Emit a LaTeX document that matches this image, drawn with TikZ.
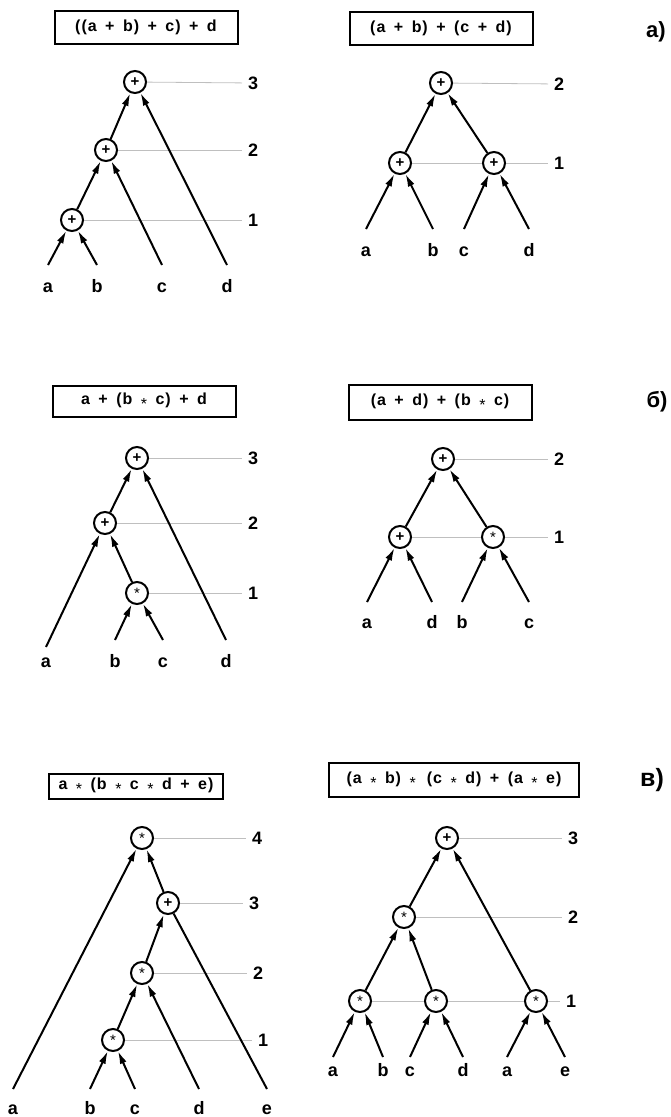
\documentclass[tikz,border=0pt]{standalone}
\usepackage{fontspec}
\setmainfont{Liberation Sans}
\newfontfamily\boxfont[LetterSpace=6]{Liberation Sans}
\usetikzlibrary{arrows.meta}
\newcommand{\opmul}{\raisebox{-0.33em}{\mdseries *}}
\newcommand{\boxtextfont}{\boxfont\bfseries\fontsize{16}{16}\selectfont\spaceskip 8.5pt\relax}

\begin{document}
\begin{tikzpicture}[x=1pt, y=-1pt, line width=2pt, >={Latex[length=13pt,width=7pt]}, opStyle/.style={circle, draw, minimum size=22pt, inner sep=0pt, font=\bfseries\fontsize{15}{15}\selectfont}, leafStyle/.style={anchor=base, inner sep=0pt, text height=12pt, text depth=0pt, outer ysep=#1, font=\bfseries\fontsize{18}{18}\selectfont}, leafStyle/.default=15pt, levelStyle/.style={anchor=west, inner xsep=5pt, inner ysep=0pt, font=\bfseries\fontsize{18}{18}\selectfont}, boxStyle/.style={rectangle, draw, inner xsep=2pt, inner ysep=0pt, font=\boxtextfont}, tagStyle/.style={font=\bfseries\fontsize{22}{22}\selectfont}, guideStyle/.style={draw=black!25, line width=0.8pt}]
                    \useasboundingbox (0, 0) rectangle (670, 1117);

                    \node[boxStyle, minimum width=183pt, minimum height=33pt](aL_box) at (146, 27) {((a + b) + c) + d};
                    \node[opStyle] (aL_3) at (135, 82) {+};
                    \node[opStyle] (aL_2) at (106, 150) {+};
                    \node[opStyle] (aL_1) at ( 72, 220) {+};
                    \node[levelStyle] (aL_3n) at (242, 83) {3};
                    \node[levelStyle] (aL_2n) at (242, 150) {2};
                    \node[levelStyle] (aL_1n) at (242, 220) {1};
                    \node[leafStyle] (aL_a) at ( 48, 292) {a};
                    \node[leafStyle] (aL_b) at ( 97, 292) {b};
                    \node[leafStyle] (aL_c) at (162, 292) {c};
                    \node[leafStyle] (aL_d) at (227, 292) {d};

                    \node[boxStyle, minimum width=183pt, minimum height=33pt](aR_box) at (441, 28) {(a + b) + (c + d)};
                    \node[opStyle] (aR_2)  at (441, 83) {+};
                    \node[opStyle] (aR_1a) at (400, 163) {+};
                    \node[opStyle] (aR_1b) at (494, 163) {+};
                    \node[levelStyle] (aR_2n) at (548, 84) {2};
                    \node[levelStyle] (aR_1n) at (548, 163) {1};
                    \node[leafStyle] (aR_a) at (366, 256) {a};
                    \node[leafStyle] (aR_b) at (433, 256) {b};
                    \node[leafStyle] (aR_c) at (464, 256) {c};
                    \node[leafStyle] (aR_d) at (529, 256) {d};
                    \node[tagStyle] (aTag) at (656, 32) {а)};

                    \node[boxStyle, minimum width=183pt, minimum height=31pt](bL_box) at (144, 401) {a + (b \opmul{} c) + d};
                    \node[opStyle] (bL_3) at (137, 458) {+};
                    \node[opStyle] (bL_2) at (105, 523) {+};
                    \node[opStyle] (bL_1) at (137, 593) {\opmul};
                    \node[levelStyle] (bL_3n) at (242, 458) {3};
                    \node[levelStyle] (bL_2n) at (242, 523) {2};
                    \node[levelStyle] (bL_1n) at (242, 593) {1};
                    \node[leafStyle=8pt] (bL_a) at ( 46, 667) {a};
                    \node[leafStyle] (bL_b) at (115, 667) {b};
                    \node[leafStyle] (bL_c) at (163, 667) {c};
                    \node[leafStyle] (bL_d) at (226, 667) {d};

                    \node[boxStyle, minimum width=183pt, minimum height=35pt](bR_box) at (440, 402) {(a + d) + (b \opmul{} c)};
                    \node[opStyle] (bR_2)  at (443, 459) {+};
                    \node[opStyle] (bR_1a) at (400, 537) {+};
                    \node[opStyle] (bR_1b) at (493, 537) {\opmul};
                    \node[levelStyle] (bR_2n) at (548, 459) {2};
                    \node[levelStyle] (bR_1n) at (548, 537) {1};
                    \node[leafStyle=14pt] (bR_a) at (367, 628) {a};
                    \node[leafStyle=14pt] (bR_d) at (432, 628) {d};
                    \node[leafStyle=14pt] (bR_b) at (462, 628) {b};
                    \node[leafStyle=14pt] (bR_c) at (529, 628) {c};
                    \node[tagStyle] (bTag) at (657, 402) {б)};

                    \node[boxStyle, minimum width=174pt, minimum height=25pt](cL_box) at (136, 786) {a \opmul{} (b \opmul{} c \opmul{} d + e)};
                    \node[opStyle] (cL_4) at (142, 838) {\opmul};
                    \node[opStyle] (cL_3) at (168, 903) {+};
                    \node[opStyle] (cL_2) at (142, 973) {\opmul};
                    \node[opStyle] (cL_1) at (113, 1040) {\opmul};
                    \node[levelStyle] (cL_4n) at (246, 838) {4};
                    \node[levelStyle] (cL_3n) at (243, 903) {3};
                    \node[levelStyle] (cL_2n) at (247, 973) {2};
                    \node[levelStyle] (cL_1n) at (252, 1040) {1};
                    \node[leafStyle=13pt] (cL_a) at ( 13, 1114) {a};
                    \node[leafStyle=13pt] (cL_b) at ( 90, 1114) {b};
                    \node[leafStyle=13pt] (cL_c) at (135, 1114) {c};
                    \node[leafStyle=13pt] (cL_d) at (199, 1114) {d};
                    \node[leafStyle=13pt] (cL_e) at (267, 1114) {e};

                    \node[boxStyle, minimum width=250pt, minimum height=34pt](cR_box) at (454, 780) {(a \opmul{} b) \opmul{}\, (c \opmul{} d) + (a \opmul{} e)};
                    \node[opStyle] (cR_3)  at (447, 838) {+};
                    \node[opStyle] (cR_2)  at (404, 917) {\opmul};
                    \node[opStyle] (cR_1a) at (360, 1001) {\opmul};
                    \node[opStyle] (cR_1b) at (436, 1001) {\opmul};
                    \node[opStyle] (cR_1c) at (536, 1001) {\opmul};
                    \node[levelStyle] (cR_3n) at (562, 838) {3};
                    \node[levelStyle] (cR_2n) at (562, 917) {2};
                    \node[levelStyle] (cR_1n) at (560, 1001) {1};
                    \node[leafStyle=7pt] (cR_a)  at (333, 1076) {a};
                    \node[leafStyle=7pt] (cR_b)  at (383, 1076) {b};
                    \node[leafStyle=7pt] (cR_c)  at (410, 1076) {c};
                    \node[leafStyle=7pt] (cR_d)  at (463, 1076) {d};
                    \node[leafStyle=7pt] (cR_a2) at (507, 1076) {a};
                    \node[leafStyle=7pt] (cR_e)  at (565, 1076) {e};
                    \node[tagStyle, font=\bfseries\fontsize{25}{25}\selectfont] (cTag) at (652, 780) {в)};

                    \draw[guideStyle] (aL_3) -- (aL_3n);
                    \draw[guideStyle] (aL_2) -- (aL_2n);
                    \draw[guideStyle] (aL_1) -- (aL_1n);
                    \draw[guideStyle] (aR_2) -- (aR_2n);
                    \draw[guideStyle] (aR_1a) -- (aR_1b) -- (aR_1n);
                    \draw[guideStyle] (bL_3) -- (bL_3n);
                    \draw[guideStyle] (bL_2) -- (bL_2n);
                    \draw[guideStyle] (bL_1) -- (bL_1n);
                    \draw[guideStyle] (bR_2) -- (bR_2n);
                    \draw[guideStyle] (bR_1a) -- (bR_1b) -- (bR_1n);
                    \draw[guideStyle] (cL_4) -- (cL_4n);
                    \draw[guideStyle] (cL_3) -- (cL_3n);
                    \draw[guideStyle] (cL_2) -- (cL_2n);
                    \draw[guideStyle] (cL_1) -- (cL_1n);
                    \draw[guideStyle] (cR_3) -- (cR_3n);
                    \draw[guideStyle] (cR_2) -- (cR_2n);
                    \draw[guideStyle] (cR_1a) -- (cR_1b) -- (cR_1c) -- (cR_1n);

                    \draw[->] (aL_a.north) -- (aL_1);
                    \draw[->] (aL_b.north) -- (aL_1);
                    \draw[->] (aL_1) -- (aL_2);
                    \draw[->] (aL_c.north) -- (aL_2);
                    \draw[->] (aL_2) -- (aL_3);
                    \draw[->] (aL_d.north) -- (aL_3);

                    \draw[->] (aR_a.north) -- (aR_1a);
                    \draw[->] (aR_b.north) -- (aR_1a);
                    \draw[->] (aR_c.north) -- (aR_1b);
                    \draw[->] (aR_d.north) -- (aR_1b);
                    \draw[->] (aR_1a) -- (aR_2);
                    \draw[->] (aR_1b) -- (aR_2);

                    \draw[->] (bL_a.north) -- (bL_2);
                    \draw[->] (bL_b.north) -- (bL_1);
                    \draw[->] (bL_c.north) -- (bL_1);
                    \draw[->] (bL_1) -- (bL_2);
                    \draw[->] (bL_2) -- (bL_3);
                    \draw[->] (bL_d.north) -- (bL_3);

                    \draw[->] (bR_a.north) -- (bR_1a);
                    \draw[->] (bR_d.north) -- (bR_1a);
                    \draw[->] (bR_b.north) -- (bR_1b);
                    \draw[->] (bR_c.north) -- (bR_1b);
                    \draw[->] (bR_1a) -- (bR_2);
                    \draw[->] (bR_1b) -- (bR_2);

                    \draw[->] (cL_a.north) -- (cL_4);
                    \draw[->] (cL_3) -- (cL_4);
                    \draw[->] (cL_2) -- (cL_3);
                    \draw (cL_e.north) -- (cL_3);
                    \draw[->] (cL_1) -- (cL_2);
                    \draw[->] (cL_d.north) -- (cL_2);
                    \draw[->] (cL_b.north) -- (cL_1);
                    \draw[->] (cL_c.north) -- (cL_1);

                    \draw[->] (cR_a.north) -- (cR_1a);
                    \draw[->] (cR_b.north) -- (cR_1a);
                    \draw[->] (cR_c.north) -- (cR_1b);
                    \draw[->] (cR_d.north) -- (cR_1b);
                    \draw[->] (cR_a2.north) -- (cR_1c);
                    \draw[->] (cR_e.north) -- (cR_1c);
                    \draw[->] (cR_1a) -- (cR_2);
                    \draw[->] (cR_1b) -- (cR_2);
                    \draw[->] (cR_2) -- (cR_3);
                    \draw[->] (cR_1c) -- (cR_3);
                \end{tikzpicture}
\end{document}
